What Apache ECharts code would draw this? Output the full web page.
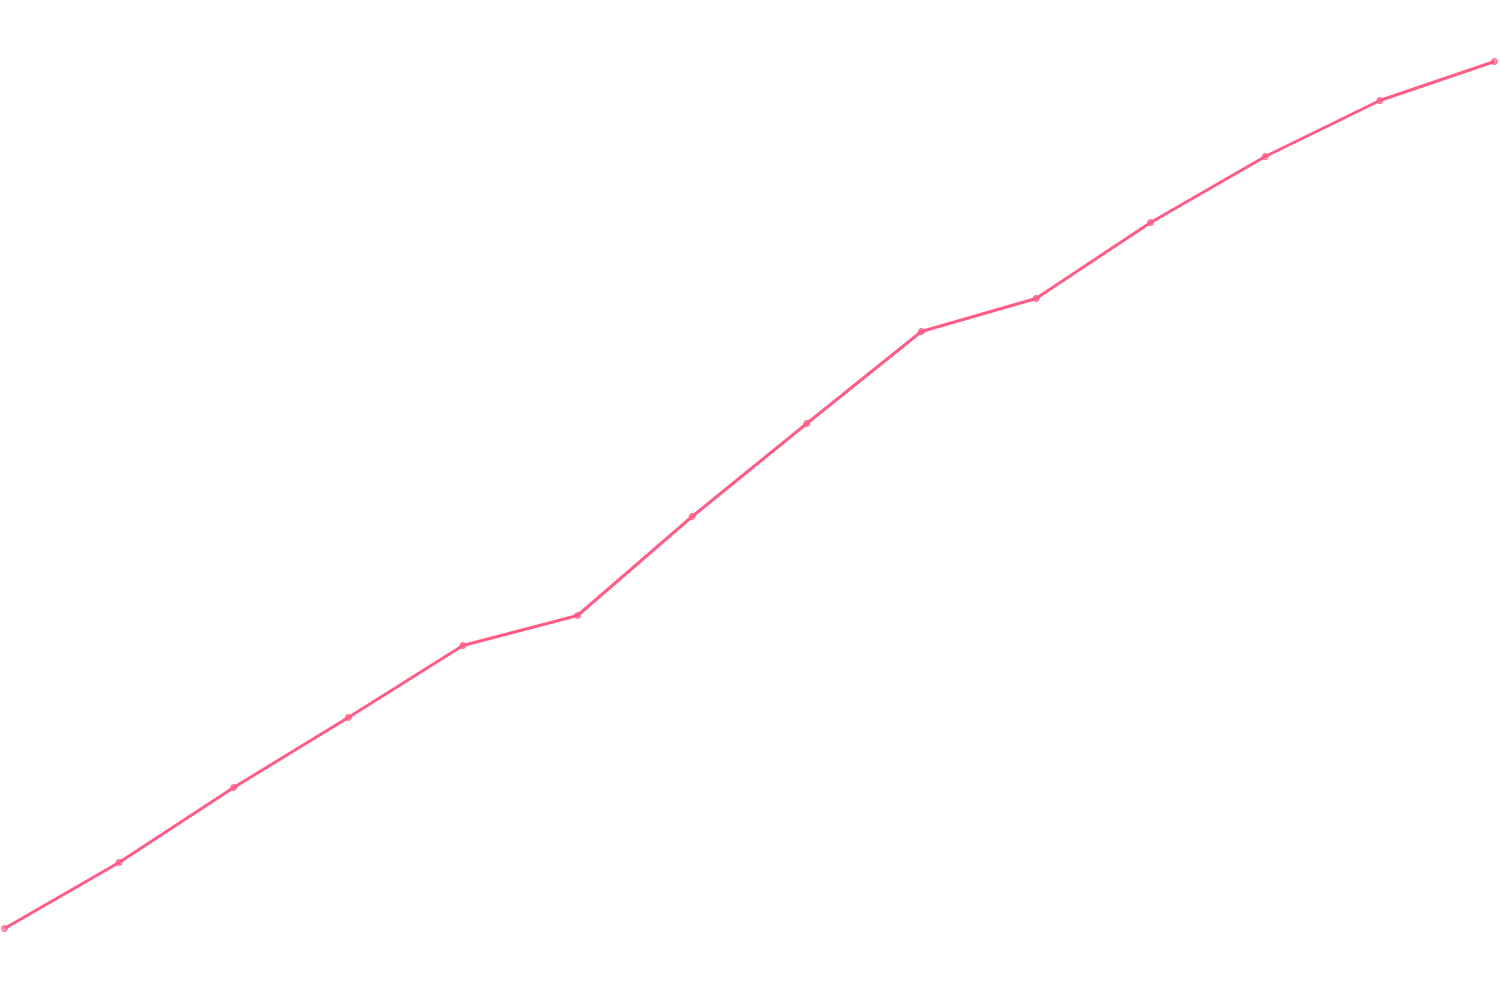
<!DOCTYPE html>
<html>
<head>
<meta charset="utf-8">
<script src="https://cdn.jsdelivr.net/npm/echarts@6/dist/echarts.min.js"></script>
<style>
  html, body { margin: 0; padding: 0; background: #fff; }
  #main { width: 1500px; height: 1000px; }
</style>
</head>
<body>
<div id="main"></div>
<script>
var categories = ['1', '2', '3', '4', '5', '6', '7', '8', '9', '10', '11', '12', '13', '14']
// values (no axis shown, so 0..1000 scale)
var values = [71.5, 137.5, 212.5, 282.5, 354.5, 384.5, 483.5, 576.5, 668.5, 701.5, 777.5, 843.5, 899.5, 938.5]

var chart = echarts.init(document.getElementById('main'))

var option = {
  animation: false,
  grid: {
    left: 4.5,
    right: 5.5,
    top: 0,
    bottom: 0
  },
  xAxis: {
    type: 'category',
    data: categories,
    boundaryGap: false,
    show: false
  },
  yAxis: {
    type: 'value',
    min: 0,
    max: 1000,
    show: false
  },
  series: [{
    type: 'line',
    data: values,
    symbol: 'circle',
    symbolSize: 6,
    lineStyle: {
      color: '#ff5c85',
      width: 3
    },
    itemStyle: {
      color: 'rgba(255,92,133,0.6)',
      borderColor: '#ff5c85',
      borderWidth: 1
    }
  }]
}

chart.setOption(option)
</script>
</body>
</html>
